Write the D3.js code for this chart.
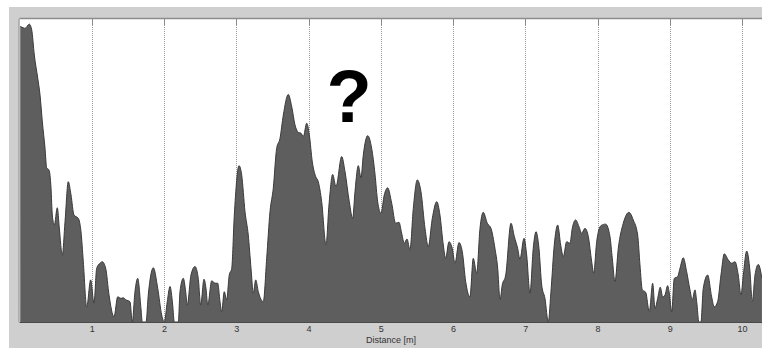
<!DOCTYPE html>
<html><head><meta charset="utf-8">
<script src="https://cdn.jsdelivr.net/npm/d3@7/dist/d3.min.js"></script>
<style>
html,body{margin:0;padding:0;background:#fff;}
svg{display:block;}
</style></head>
<body>
<script>
// Distance along the profile (m)
const distance = [0.01,0.053,0.076,0.136,0.169,0.205,0.252,0.284,0.316,0.353,0.376,0.408,0.436,0.454,0.482,0.523,0.551,0.592,0.630,0.675,0.713,0.754,0.814,0.851,0.883,0.930,0.985,1.031,1.068,1.114,1.146,1.193,1.239,1.308,1.359,1.405,1.436,1.474,1.529,1.561,1.598,1.636,1.681,1.699,1.751,1.782,1.852,1.913,1.968,2.004,2.045,2.083,2.120,2.142,2.198,2.221,2.267,2.300,2.322,2.373,2.429,2.474,2.508,2.553,2.581,2.605,2.660,2.706,2.743,2.775,2.798,2.834,2.867,2.903,2.937,2.973,3.038,3.075,3.121,3.166,3.204,3.236,3.269,3.305,3.374,3.421,3.467,3.512,3.559,3.605,3.651,3.720,3.767,3.813,3.858,3.896,3.928,3.975,4.011,4.052,4.099,4.135,4.182,4.242,4.283,4.334,4.380,4.459,4.505,4.564,4.611,4.643,4.689,4.726,4.758,4.819,4.874,4.920,4.957,5.003,5.048,5.095,5.151,5.206,5.252,5.289,5.325,5.363,5.404,5.450,5.505,5.556,5.612,5.657,5.713,5.774,5.819,5.865,5.898,5.944,5.989,6.027,6.082,6.128,6.175,6.234,6.280,6.327,6.373,6.418,6.474,6.525,6.580,6.618,6.650,6.681,6.729,6.802,6.848,6.894,6.926,6.982,7.019,7.065,7.110,7.148,7.189,7.227,7.272,7.318,7.355,7.401,7.448,7.490,7.526,7.573,7.618,7.650,7.697,7.743,7.780,7.826,7.872,7.919,7.946,7.988,8.047,8.112,8.172,8.204,8.241,8.287,8.356,8.435,8.494,8.555,8.587,8.619,8.666,8.716,8.763,8.795,8.832,8.868,8.901,8.933,8.970,8.993,9.026,9.062,9.109,9.141,9.186,9.233,9.279,9.311,9.348,9.372,9.403,9.431,9.463,9.524,9.579,9.615,9.662,9.708,9.754,9.809,9.856,9.902,9.947,9.985,10.017,10.064,10.110,10.141,10.179,10.225,10.275];
// Signal amplitude (relative, 0-100)
const amplitude = [97.5,97.1,96.9,98.3,96.4,88.1,80.5,74.9,66.1,57.4,50.8,50.2,44.2,35.3,32.0,37.7,31.0,22.1,33.1,46.3,41.9,35.3,34.2,29.8,19.9,5.0,13.9,6.2,17.7,19.4,19.9,17.7,8.9,1.7,8.3,7.8,8.0,7.3,6.7,0,10.0,14.4,4.5,0,0,8.9,17.9,11.1,2.3,0,6.7,11.7,5.6,0,0,10.0,14.4,10.0,5.6,15.5,18.3,14.4,5.6,14.1,11.1,5.6,13.6,12.8,12.8,6.7,3.4,10.0,7.3,15.5,17.7,35.3,51.6,48.5,36.4,28.7,17.7,9.5,13.9,10.0,6.7,21.0,36.4,44.1,57.3,60.6,68.3,75.1,71.1,65.0,62.6,62.3,61.2,65.6,61.7,52.9,48.0,46.3,39.7,25.4,38.6,48.7,44.7,54.6,49.6,39.7,34.2,43.0,51.6,47.6,55.1,61.5,57.3,48.8,39.7,35.9,41.9,44.3,39.2,32.6,32.9,29.3,26.0,27.4,23.8,37.5,46.9,43.0,30.9,24.9,34.2,39.7,35.3,25.4,21.0,26.5,24.3,19.4,26.2,23.2,13.3,8.3,21.0,16.1,30.9,36.2,32.6,30.9,24.3,17.7,7.3,12.2,15.5,32.6,28.2,24.3,20.7,27.6,22.1,9.5,24.3,29.8,24.3,12.2,7.8,0,10.0,25.4,32.0,25.4,21.6,26.5,26.0,30.9,33.7,31.5,29.3,30.9,28.2,19.9,16.1,26.5,31.8,32.3,28.2,21.0,13.3,24.3,32.6,36.2,33.7,28.7,18.8,10.6,9.8,3.4,12.8,4.5,7.8,11.5,8.3,8.9,12.0,9.5,3.4,14.4,15.0,17.7,21.2,16.6,10.6,7.3,10.6,6.7,0,0,11.1,15.5,8.3,5.0,6.7,15.5,22.5,20.5,19.4,19.9,15.5,8.9,15.5,23.4,16.6,6.7,15.5,19.0,14.4];
const tickValues = [1,2,3,4,5,6,7,8,9,10];
const xLabel = "Distance [m]";
const overlayText = "?";

const W = 762, H = 348;
const svg = d3.select("body").append("svg").attr("width", W).attr("height", H);

// panel background
svg.append("rect").attr("x", 9).attr("y", 7).attr("width", W - 9).attr("height", H - 7).attr("fill", "#cfcfcf");

const plotL = 19.5, plotR = 762.3, plotT = 19, plotB = 322;
svg.append("rect").attr("x", plotL).attr("y", plotT).attr("width", W - plotL).attr("height", plotB - plotT).attr("fill", "#ffffff");

const x = d3.scaleLinear().domain([0, 10.28]).range([plotL, plotR]);
const y = d3.scaleLinear().domain([0, 100]).range([plotB, plotT]);

// gridlines
const grid = svg.append("g");
grid.selectAll("line.dot").data(tickValues).join("line")
  .attr("x1", d => Math.round(x(d)) + 0.5).attr("x2", d => Math.round(x(d)) + 0.5)
  .attr("y1", plotT + 6).attr("y2", plotB)
  .attr("stroke", "#9a9a9a").attr("stroke-width", 1).attr("stroke-dasharray", "1,1");
grid.selectAll("line.tk").data(tickValues).join("line")
  .attr("x1", d => Math.round(x(d)) + 0.5).attr("x2", d => Math.round(x(d)) + 0.5)
  .attr("y1", plotT).attr("y2", plotT + 6)
  .attr("stroke", "#8a8a8a").attr("stroke-width", 1);

const data = distance.map((d, i) => ({d, a: amplitude[i]}));
const area = d3.area().x(p => x(p.d)).y0(plotB).y1(p => y(p.a)).curve(d3.curveMonotoneX);
const line = d3.line().x(p => x(p.d)).y(p => y(p.a)).curve(d3.curveMonotoneX);

svg.append("path").datum(data).attr("d", area).attr("fill", "#5e5e5e");
svg.append("path").datum(data).attr("d", line).attr("fill", "none").attr("stroke", "#3a3a3a").attr("stroke-width", 1);

// frame lines
svg.append("line").attr("x1", plotL).attr("x2", W).attr("y1", plotT - 0.5).attr("y2", plotT - 0.5).attr("stroke", "#8c8c8c").attr("stroke-width", 1.5);
svg.append("line").attr("x1", plotL - 0.5).attr("x2", plotL - 0.5).attr("y1", plotT).attr("y2", plotB).attr("stroke", "#8c8c8c").attr("stroke-width", 1);
svg.append("line").attr("x1", plotL).attr("x2", W).attr("y1", plotB + 0.5).attr("y2", plotB + 0.5).attr("stroke", "#4a4a4a").attr("stroke-width", 1);

// axis
const axis = d3.axisBottom(x).tickValues(tickValues).tickSize(0).tickPadding(4).tickFormat(d3.format("d"));
const gAx = svg.append("g").attr("transform", `translate(0,${plotB})`).call(axis);
gAx.select(".domain").remove();
gAx.selectAll("text").attr("font-family", "Liberation Sans, Arial, sans-serif").attr("font-size", 9).attr("fill", "#333");

svg.append("text").attr("x", (plotL + plotR) / 2).attr("y", 343)
  .attr("text-anchor", "middle").attr("font-family", "Liberation Sans, Arial, sans-serif")
  .attr("font-size", 9).attr("fill", "#333").text(xLabel);

svg.append("text").attr("x", 349).attr("y", 122)
  .attr("text-anchor", "middle").attr("font-family", "Liberation Sans, Arial, sans-serif")
  .attr("font-weight", "bold").attr("font-size", 74).attr("fill", "#000").text(overlayText);
</script>
</body></html>
